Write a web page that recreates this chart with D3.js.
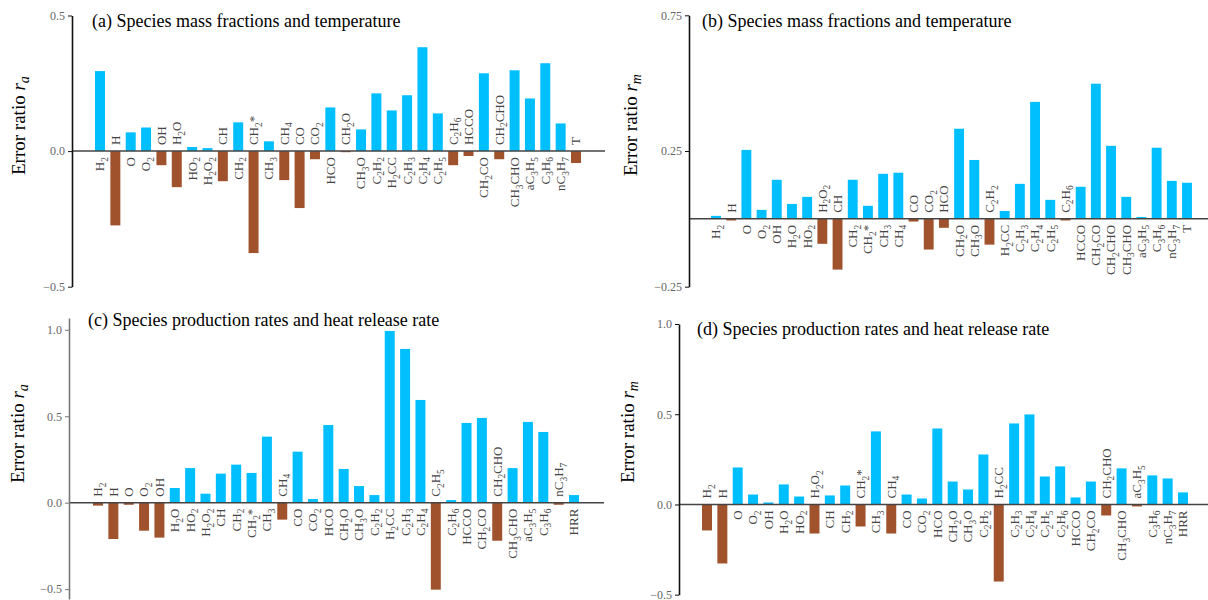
<!DOCTYPE html>
<html>
<head>
<meta charset="utf-8">
<script src="https://cdn.jsdelivr.net/npm/d3@7"></script>
<style>
  body { margin: 0; background: #fff; }
  svg { font-family: "Liberation Serif", "Times New Roman", serif; }
</style>
</head>
<body>
<div id="chart"></div>
<script>
// species shared by all four panels, last category differs
const species = ["H2", "H", "O", "O2", "OH", "H2O", "HO2", "H2O2", "CH", "CH2", "CH2*", "CH3", "CH4",
  "CO", "CO2", "HCO", "CH2O", "CH3O", "C2H2", "H2CC", "C2H3", "C2H4", "C2H5", "C2H6", "HCCO",
  "CH2CO", "CH2CHO", "CH3CHO", "aC3H5", "C3H6", "nC3H7"];
const speciesT = species.concat(["T"]);
const speciesHRR = species.concat(["HRR"]);

// (a) mass fractions and temperature, r_a
const massRa = [0.295, -0.274, 0.069, 0.087, -0.052, -0.133, 0.015, 0.011, -0.111, 0.106, -0.376, 0.036, -0.107,
  -0.210, -0.030, 0.161, -0.004, 0.080, 0.213, 0.150, 0.206, 0.383, 0.139, -0.052, -0.018,
  0.287, -0.030, 0.298, 0.194, 0.324, 0.102, -0.044];
// (b) mass fractions and temperature, r_m
const massRm = [0.011, -0.006, 0.254, 0.033, 0.144, 0.055, 0.081, -0.092, -0.187, 0.144, 0.048, 0.166, 0.170,
  -0.010, -0.113, -0.033, 0.332, 0.217, -0.095, 0.029, 0.129, 0.431, 0.070, -0.006, 0.118,
  0.498, 0.269, 0.081, 0.007, 0.262, 0.140, 0.133];
// (c) production rates and HRR, r_a
const rateRa = [-0.017, -0.210, -0.012, -0.162, -0.202, 0.085, 0.200, 0.052, 0.168, 0.220, 0.172, 0.382, -0.098,
  0.295, 0.021, 0.449, 0.195, 0.096, 0.044, 0.993, 0.889, 0.594, -0.503, 0.015, 0.461,
  0.490, -0.220, 0.200, 0.467, 0.409, -0.012, 0.044];
// (d) production rates and HRR, r_m
const rateRm = [-0.144, -0.327, 0.205, 0.055, 0.011, 0.111, 0.044, -0.161, 0.050, 0.105, -0.122, 0.405, -0.161,
  0.055, 0.033, 0.421, 0.127, 0.083, 0.277, -0.427, 0.449, 0.499, 0.155, 0.211, 0.039,
  0.127, -0.061, 0.200, -0.011, 0.161, 0.144, 0.067];

const ticksA = [-0.5, 0, 0.5];
const ticksB = [-0.25, 0.25, 0.75];
const ticksCD = [-0.5, 0, 0.5, 1.0];

const titles = [
  "(a) Species mass fractions and temperature",
  "(b) Species mass fractions and temperature",
  "(c) Species production rates and heat release rate",
  "(d) Species production rates and heat release rate"
];

const BLUE = "#00bfff";
const BROWN = "#a0522d";

const panels = [
  { cats: speciesT, vals: massRa, ticks: ticksA, fmt: ".1f", sub: "a", title: titles[0],
    axisX: 72, yDom: [-0.5, 0.5], yRange: [286.7, 15.5], first: 100, last: 576, zeroEnd: 605,
    tx: 92, ty: 27, lx: 25, ly: 175, axisColor: "#111" },
  { cats: speciesT, vals: massRm, ticks: ticksB, fmt: ".2f", sub: "m", title: titles[1],
    axisX: 689, yDom: [-0.25, 0.75], yRange: [286.7, 15.3], first: 716, last: 1187, zeroEnd: 1208,
    tx: 702, ty: 27, lx: 637, ly: 176, axisColor: "#111" },
  { cats: speciesHRR, vals: rateRa, ticks: ticksCD, fmt: ".1f", sub: "a", title: titles[2],
    axisX: 69, yDom: [-0.557, 1.068], yRange: [599, 318], first: 98, last: 574, zeroEnd: 604,
    tx: 88, ty: 326, lx: 24, ly: 483, axisColor: "#777" },
  { cats: speciesHRR, vals: rateRm, ticks: ticksCD, fmt: ".1f", sub: "m", title: titles[3],
    axisX: 679, yDom: [-0.5, 1.0], yRange: [594.7, 324], first: 707, last: 1183, zeroEnd: 1208,
    tx: 697, ty: 335, lx: 634, ly: 483, axisColor: "#111" }
];

const svg = d3.select("#chart").append("svg")
  .attr("width", 1208)
  .attr("height", 600);

// chemical formula: digits become subscripts
function addFormula(sel, label, size) {
  const parts = label.match(/\d+|\D+/g);
  let down = false;
  parts.forEach(p => {
    const t = sel.append("tspan").text(p);
    if (/\d/.test(p)) {
      t.attr("font-size", size * 0.72).attr("dy", size * 0.28);
      down = true;
    } else if (down) {
      t.attr("dy", -size * 0.28);
      down = false;
    }
  });
}

panels.forEach(p => {
  const g = svg.append("g");
  const n = p.cats.length;
  const step = (p.last - p.first) / (n - 1);

  const x = d3.scaleBand()
    .domain(p.cats)
    .range([p.first - step / 2, p.last + step / 2])
    .paddingInner(0.35)
    .paddingOuter(0.175);

  const y = d3.scaleLinear().domain(p.yDom).range(p.yRange);
  const y0 = y(0);

  // bars
  g.selectAll("rect.bar")
    .data(p.vals)
    .join("rect")
    .attr("class", "bar")
    .attr("x", (d, i) => x(p.cats[i]))
    .attr("width", x.bandwidth())
    .attr("y", d => d >= 0 ? y(d) : y0)
    .attr("height", d => Math.abs(y(d) - y0))
    .attr("fill", d => d >= 0 ? BLUE : BROWN);

  // zero line
  g.append("line")
    .attr("x1", p.axisX).attr("x2", p.zeroEnd)
    .attr("y1", y0).attr("y2", y0)
    .attr("stroke", "#444")
    .attr("stroke-width", 1.5);

  // species labels, opposite side of the bar
  p.vals.forEach((v, i) => {
    const cx = x(p.cats[i]) + x.bandwidth() / 2;
    const ly = v >= 0 ? y0 + 6 : y0 - 6;
    const t = g.append("text")
      .attr("transform", `translate(${cx},${ly}) rotate(-90)`)
      .attr("text-anchor", v >= 0 ? "end" : "start")
      .attr("y", 4.4)
      .attr("font-size", 13)
      .attr("fill", "#444");
    addFormula(t, p.cats[i], 13);
  });

  // y axis
  const axis = g.append("g")
    .attr("transform", `translate(${p.axisX},0)`)
    .call(d3.axisLeft(y)
      .tickValues(p.ticks)
      .tickFormat(d3.format(p.fmt))
      .tickSizeInner(4)
      .tickSizeOuter(0)
      .tickPadding(3));
  axis.select(".domain").attr("stroke", p.axisColor).attr("stroke-width", 1.6);
  axis.selectAll(".tick line").attr("stroke", p.axisColor).attr("stroke-width", 1);
  axis.selectAll(".tick text")
    .attr("font-family", "Liberation Serif, serif")
    .attr("font-size", 12)
    .attr("fill", "#666");

  // title
  g.append("text")
    .attr("x", p.tx).attr("y", p.ty)
    .attr("font-size", 18)
    .attr("fill", "#000")
    .text(p.title);

  // y label
  const yl = g.append("text")
    .attr("transform", `translate(${p.lx},${p.ly}) rotate(-90)`)
    .attr("font-size", 19)
    .attr("fill", "#000");
  yl.append("tspan").text("Error ratio ");
  yl.append("tspan").attr("font-style", "italic").text("r");
  yl.append("tspan").attr("font-style", "italic").attr("font-size", 14).attr("dy", 4).text(p.sub);
});
</script>
</body>
</html>
